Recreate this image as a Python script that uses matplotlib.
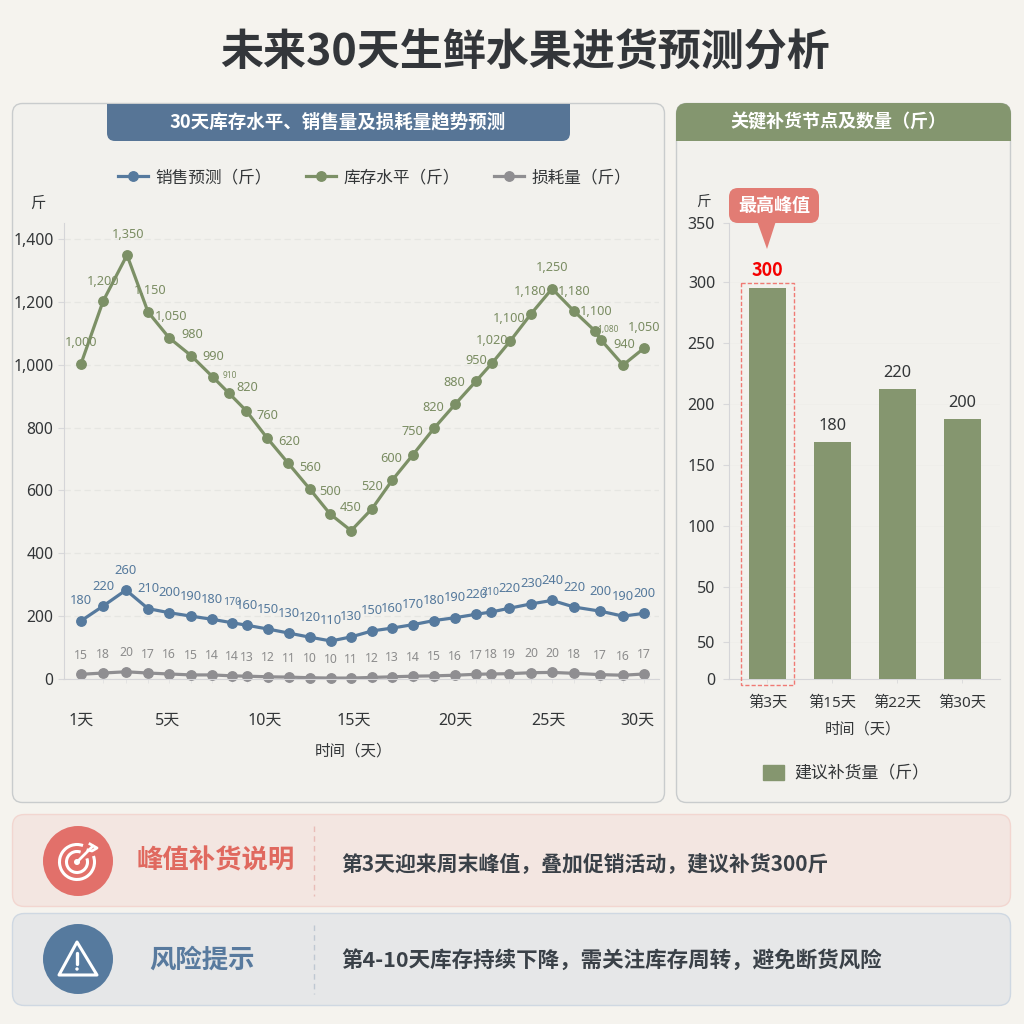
import numpy as np
import matplotlib
matplotlib.use('Agg')
import matplotlib.pyplot as plt
from matplotlib.patches import FancyBboxPatch, Rectangle, Circle, Arc, Polygon, Patch
from matplotlib.ticker import NullLocator

plt.rcParams['font.family'] = ['Noto Sans', 'Noto Sans CJK SC', 'DejaVu Sans']
# Noto Sans has no bold here, bold text goes through the CJK family
BOLD = ['Noto Sans CJK SC', 'DejaVu Sans']

# Line chart data
inv_pos = [0, 1.05, 2.19, 3.19, 4.19, 5.24, 6.29, 7.05, 7.86, 8.86, 9.86, 10.9, 11.86, 12.86, 13.86,
           14.81, 15.81, 16.81, 17.81, 18.81, 19.57, 20.43, 21.43, 22.43, 23.48, 24.48, 24.76, 25.81, 26.81]
inv_vals = [1003, 1202, 1349, 1168, 1086, 1029, 960, 909, 854, 767, 687, 604, 525, 472,
            542, 632, 714, 798, 874, 948, 1005, 1075, 1162, 1242, 1170, 1107, 1079, 999, 1053]
inv_labels = ['1,000', '1,200', '1,350', '1,150', '1,050', '980', '990', '910', '820', '760', '620', '560',
              '500', '450', '520', '600', '750', '820', '880', '950', '1,020', '1,100', '1,180', '1,250',
              '1,180', '1,100', '1,080', '940', '1,050']
inv_dx = [0, 0, 1, 2, 2, 1, 0, 1, 1, 0, 1, 0, 0, 0, 0, -1, -1, -1, -1, 0, 0, -1, -1, 0, 0, 1, 7, 1, 0]
inv_dy = [21, 20, 21, 21, 21, 21, 21, 18, 23, 22, 22, 22, 23, 23, 22, 22, 23, 21, 22, 21, 23, 23, 22, 21, 20, 20, 10, 21, 21]
inv_tiny = [7, 26]  # these two labels are squashed in the source

day_pos = [0, 1.05, 2.14, 3.19, 4.19, 5.24, 6.24, 7.19, 7.9, 8.9, 9.9, 10.9, 11.9, 12.86,
           13.86, 14.81, 15.81, 16.81, 17.81, 18.81, 19.52, 20.38, 21.43, 22.43, 23.48, 24.71, 25.81, 26.81]
sales_vals = [185, 232, 283, 224, 211, 200, 190, 179, 171, 159, 146, 133, 121, 134,
              153, 162, 173, 186, 195, 206, 213, 225, 239, 250, 229, 216, 200, 209]
sales_labels = ['180', '220', '260', '210', '200', '190', '180', '170', '160', '150', '130', '120', '110', '130',
                '150', '160', '170', '180', '190', '220', '210', '220', '230', '240', '220', '200', '190', '200']
sales_tiny = [7, 20]
loss_vals = [15, 19, 23, 19, 16, 13, 13, 10, 9, 7, 6, 4, 3, 3,
             5, 7, 9, 10, 12, 15, 16, 17, 20, 21, 18, 14, 12, 16]
loss_labels = ['15', '18', '20', '17', '16', '15', '14', '14', '13', '12', '11', '10', '10', '11',
               '12', '13', '14', '15', '16', '17', '18', '19', '20', '20', '18', '17', '16', '17']

line_ticks = [0, 200, 400, 600, 800, 1000, 1200, 1400]
line_tick_labels = ['0', '200', '400', '600', '800', '1,000', '1,200', '1,400']
day_tick_pos = [0, 4.14, 8.76, 13.0, 17.81, 22.24, 26.48]
day_tick_labels = ['1天', '5天', '10天', '15天', '20天', '25天', '30天']

# Bar chart data
bar_names = ['第3天', '第15天', '第22天', '第30天']
bar_vals = [295, 169, 212, 188]
bar_labels = ['300', '180', '220', '200']
# the source axis repeats 50, so the scale is stretched below 50
bar_tick_vals = [0, 20, 50, 100, 150, 200, 250, 300, 350]
bar_tick_labels = ['0', '50', '50', '100', '150', '200', '250', '300', '350']
bar_tick_px = [0, 37, 92, 153, 214, 275, 336, 397, 456]

BLUE = '#567A9E'
GREEN = '#7C9066'
GREY = '#8F8E91'
BAR = '#85966F'
RED = '#E2706A'
DARK = '#333638'

W = 1024
fig = plt.figure(figsize=(10.24, 10.24), dpi=100, facecolor='#F5F3EE')


def px_axes(left, top, right, bottom, **kw):
    return fig.add_axes([left / W, 1 - bottom / W, (right - left) / W, (bottom - top) / W], **kw)


def round_box(ax, x, y, w, h, r, **kw):
    p = FancyBboxPatch((x, y), w, h, boxstyle='round,pad=0,rounding_size=%s' % r, **kw)
    ax.add_patch(p)
    return p


# Background layer in pixel coordinates
bg = fig.add_axes([0, 0, 1, 1], zorder=0)
bg.set_xlim(0, W)
bg.set_ylim(W, 0)
bg.axis('off')

bg.text(525, 52, '未来30天生鲜水果进货预测分析', fontsize=31, fontweight='bold', family=BOLD, color='#33363A', ha='center', va='center')

round_box(bg, 12.5, 103.5, 652, 699, 10, fc='#F2F1ED', ec='#C9CCCD', lw=1)
round_box(bg, 676.5, 103.5, 334, 699, 10, fc='#F2F1ED', ec='#C9CCCD', lw=1)

head = round_box(bg, 107, 80, 463, 61, 8, fc='#577596', ec='none')
head.set_clip_path(Rectangle((0, 104), W, 60, transform=bg.transData))
bg.text(338, 122, '30天库存水平、销售量及损耗量趋势预测', fontsize=13.3, fontweight='bold', family=BOLD, color='white', ha='center', va='center')

head2 = round_box(bg, 676, 103, 335, 70, 11, fc='#84966F', ec='none')
head2.set_clip_path(Rectangle((0, 103), W, 38, transform=bg.transData))
bg.text(838, 122, '关键补货节点及数量（斤）', fontsize=13, fontweight='bold', family=BOLD, color='white', ha='center', va='center')

# Bottom cards
round_box(bg, 12.5, 814.5, 998, 92, 12, fc='#F3E6E1', ec='#F2D6D0', lw=1)
round_box(bg, 12.5, 913.5, 998, 92, 12, fc='#E6E7E8', ec='#CFD8E2', lw=1)
bg.plot([314, 314], [826, 896], color='#E8BDB8', lw=1, ls=(0, (4, 3)))
bg.plot([314, 314], [925, 994], color='#BFC8D2', lw=1, ls=(0, (4, 3)))

bg.add_patch(Circle((78, 861), 35, fc=RED, ec='none'))
bg.add_patch(Circle((78, 959), 35, fc='#567A9E', ec='none'))

# Target icon
bg.add_patch(Arc((77, 862), 35, 35, theta1=-20, theta2=290, ec='white', lw=2.2))
bg.add_patch(Arc((77, 862), 21, 21, theta1=-20, theta2=290, ec='white', lw=2.2))
bg.add_patch(Circle((77, 862), 3, fc='white', ec='none'))
bg.plot([77, 93], [862, 846], color='white', lw=2, solid_capstyle='round')
bg.plot([90, 97, 92, 88], [844, 848, 851, 850], color='white', lw=2)

# Warning icon
bg.add_patch(Polygon([(77, 942), (97, 975), (59, 975)], closed=True, fc='none', ec='white', lw=2.2, joinstyle='round'))
bg.plot([77, 77], [953, 964], color='white', lw=2.4, solid_capstyle='round')
bg.add_patch(Circle((77, 969), 1.7, fc='white', ec='none'))

bg.text(216, 861, '峰值补货说明', fontsize=19, fontweight='bold', family=BOLD, color='#E0695F', ha='center', va='center')
bg.text(202, 960, '风险提示', fontsize=19, fontweight='bold', family=BOLD, color='#587A9E', ha='center', va='center')
bg.text(341, 864, '第3天迎来周末峰值，叠加促销活动，建议补货300斤', fontsize=15, fontweight='bold', family=BOLD, color='#3A4148', ha='left', va='center')
bg.text(341, 960, '第4-10天库存持续下降，需关注库存周转，避免断货风险', fontsize=15.5, fontweight='bold', family=BOLD, color='#3A4148', ha='left', va='center')

# Line chart
ax = px_axes(64, 223, 659, 679, zorder=1, facecolor='none')
ax.set_xlim(-0.81, 27.52)
ax.set_ylim(0, 1451)
ax.plot(inv_pos, inv_vals, color=GREEN, lw=2.3, marker='o', ms=6.8, label='库存水平（斤）')
ax.plot(day_pos, sales_vals, color=BLUE, lw=2.3, marker='o', ms=6.8, label='销售预测（斤）')
ax.plot(day_pos, loss_vals, color=GREY, lw=2.3, marker='o', ms=6.8, label='损耗量（斤）', clip_on=False)

for i, t in enumerate(inv_labels):
    ax.annotate(t, (inv_pos[i], inv_vals[i]), xytext=(inv_dx[i], inv_dy[i]), textcoords='offset pixels',
                ha='center', va='center', color='#7A8C62', fontsize=6 if i in inv_tiny else 9.2)
for i, t in enumerate(sales_labels):
    ax.annotate(t, (day_pos[i], sales_vals[i]), xytext=(0, 20), textcoords='offset pixels',
                ha='center', va='center', color='#55799C', fontsize=7.5 if i in sales_tiny else 9.3)
for i, t in enumerate(loss_labels):
    ax.annotate(t, (day_pos[i], loss_vals[i]), xytext=(0, 19), textcoords='offset pixels',
                ha='center', va='center', color='#8C8C8C', fontsize=8.8)

ax.set_yticks(line_ticks)
ax.set_yticklabels(line_tick_labels)
ax.set_xticks(day_tick_pos)
ax.set_xticklabels(day_tick_labels)
ax.set_xticks(day_pos, minor=True)
ax.tick_params(axis='y', length=4, width=0.8, color='#D8D8DA', labelsize=11.3, labelcolor=DARK, pad=3.5)
ax.tick_params(axis='x', length=0, labelsize=11.5, labelcolor=DARK, pad=24)
ax.tick_params(axis='x', which='minor', length=3, width=0.6, color='#E2E2E2')
ax.grid(axis='y', color='#E6E6E2', lw=0.9, ls=(0, (5, 3)))
ax.set_axisbelow(True)
for s in ['top', 'right']:
    ax.spines[s].set_visible(False)
ax.spines['left'].set_color('#D5D5D8')
ax.spines['bottom'].set_color('#D5D5D8')

bg.text(38, 204, '斤', fontsize=11, color=DARK, ha='center', va='center')
bg.text(354, 752, '时间（天）', fontsize=11.2, color=DARK, ha='center', va='center')

h, l = ax.get_legend_handles_labels()
order = [1, 0, 2]
ax.legend([h[i] for i in order], [l[i] for i in order], ncol=3, frameon=False, loc='center',
          bbox_to_anchor=(375 / W, 1 - 178 / W), bbox_transform=fig.transFigure,
          fontsize=12, labelcolor=DARK, handlelength=1.75, handletextpad=0.5, columnspacing=2.05)


# Bar chart, with the source's uneven axis spacing
def bar_fwd(v):
    return np.interp(v, bar_tick_vals, bar_tick_px)


def bar_inv(p):
    return np.interp(p, bar_tick_px, bar_tick_vals)


ax2 = px_axes(729, 223, 1000, 679, zorder=1, facecolor='none')
ax2.set_yscale('function', functions=(bar_fwd, bar_inv))
ax2.set_ylim(0, 350)
ax2.set_xlim(-0.592, 3.577)
xs = np.arange(len(bar_names))
ax2.bar(xs, bar_vals, width=0.569, color=BAR, label='建议补货量（斤）', zorder=3)
for i, t in enumerate(bar_labels):
    if i == 0:
        ax2.annotate(t, (xs[i], bar_vals[i]), xytext=(0, 18), textcoords='offset pixels', ha='center', va='center',
                     color='#F40000', fontsize=13, fontweight='bold', family=BOLD)
    else:
        ax2.annotate(t, (xs[i], bar_vals[i]), xytext=(0, 16), textcoords='offset pixels', ha='center', va='center',
                     color=DARK, fontsize=11.8)
ax2.set_yticks(bar_tick_vals)
ax2.set_yticklabels(bar_tick_labels)
ax2.yaxis.set_minor_locator(NullLocator())
ax2.set_xticks(xs)
ax2.set_xticklabels(bar_names)
ax2.tick_params(axis='y', length=4, width=0.8, color='#D8D8DA', labelsize=11.5, labelcolor=DARK, pad=6)
ax2.tick_params(axis='x', length=3, width=0.6, color='#DADADA', labelsize=11, labelcolor=DARK, pad=9)
ax2.grid(axis='y', color='#EFEEEA', lw=0.7)
ax2.set_axisbelow(True)
for s in ['top', 'right']:
    ax2.spines[s].set_visible(False)
ax2.spines['left'].set_color('#D5D5D8')
ax2.spines['bottom'].set_color('#D5D5D8')

bg.text(703, 202, '斤', fontsize=10.5, color=DARK, ha='center', va='center')
bg.text(863, 730, '时间（天）', fontsize=11, color=DARK, ha='center', va='center')

ax2.legend(handles=[Patch(color=BAR, label='建议补货量（斤）')], frameon=False, loc='center',
           bbox_to_anchor=(846 / W, 1 - 774 / W), bbox_transform=fig.transFigure,
           fontsize=12.2, labelcolor=DARK, handlelength=1.25, handleheight=1.0, handletextpad=0.6)

# Callout above the peak bar, drawn on top of the charts
top = fig.add_axes([0, 0, 1, 1], zorder=2, facecolor='none')
top.set_xlim(0, W)
top.set_ylim(W, 0)
top.axis('off')
top.add_patch(Rectangle((741, 283), 53, 402, fc='none', ec='#F07A74', lw=1, ls=(0, (3, 1.5))))
top.add_patch(Polygon([(757, 221), (776, 221), (767, 249)], closed=True, fc='#E27C74', ec='none'))
round_box(top, 729, 188, 90, 35, 9, fc='#E27C74', ec='none')
top.text(774, 205.5, '最高峰值', fontsize=13, fontweight='bold', family=BOLD, color='white', ha='center', va='center')

fig.savefig('out.png', dpi=100, facecolor=fig.get_facecolor())
